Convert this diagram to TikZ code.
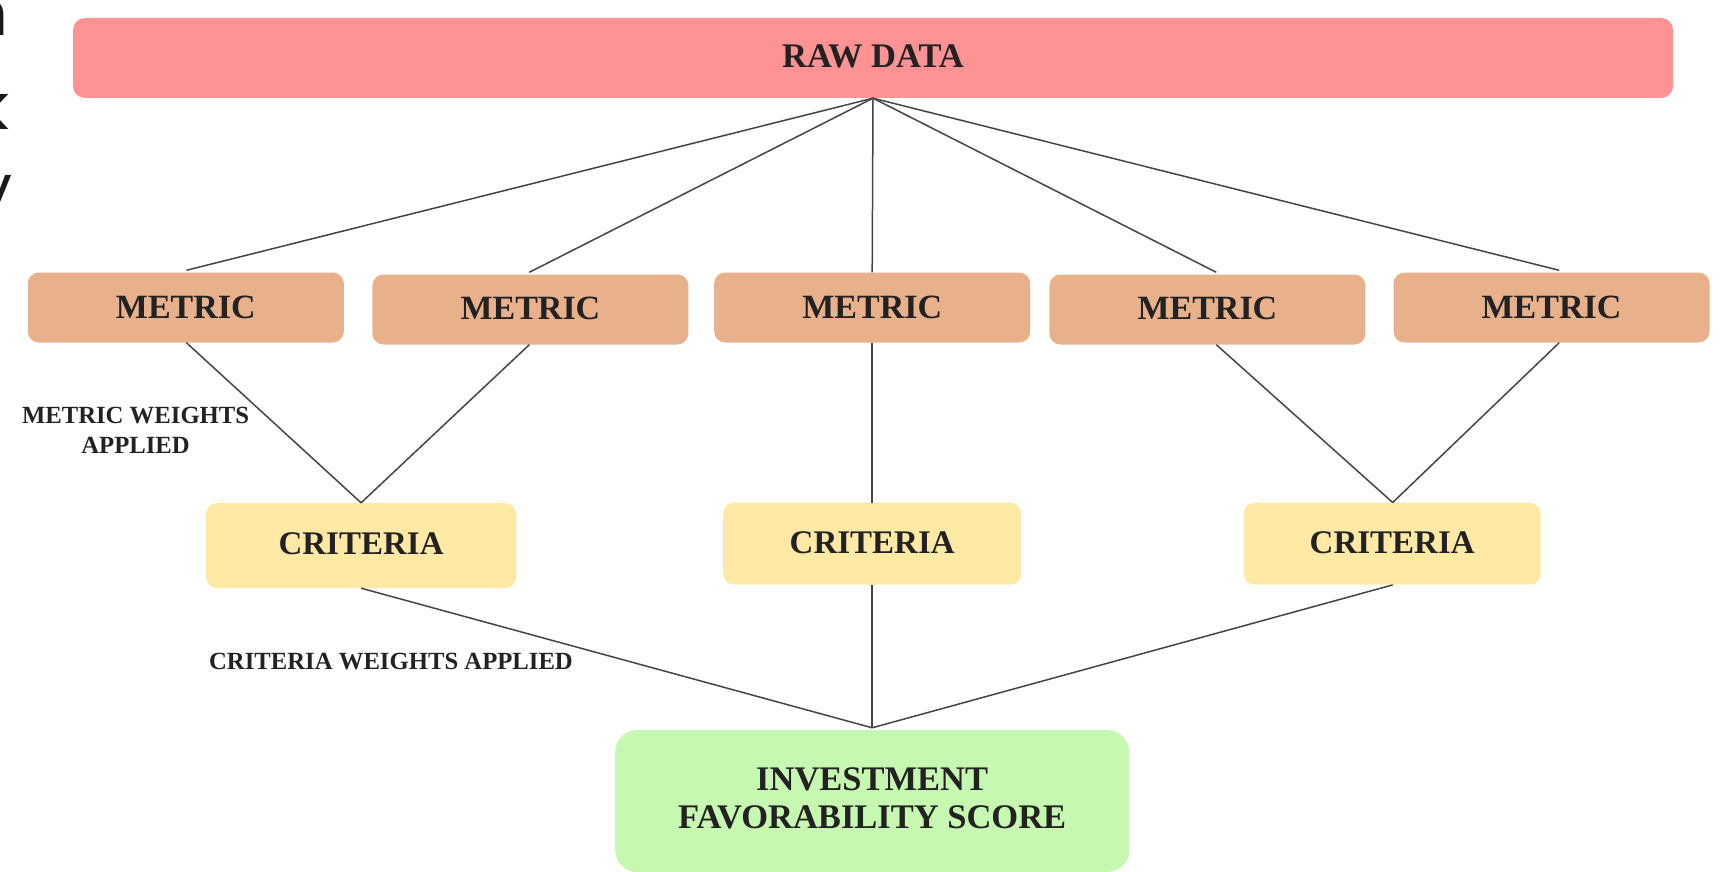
\documentclass[tikz,border=0pt]{standalone}
\usepackage{fontspec}
\setmainfont{Liberation Serif}
\newfontfamily\edgefont{Poppins}
\usetikzlibrary{calc}
\definecolor{rawfill}{HTML}{FF9292}
\definecolor{metfill}{HTML}{E8B18B}
\definecolor{crifill}{HTML}{FFE9A5}
\definecolor{invfill}{HTML}{C6F8B1}
\definecolor{txt}{HTML}{222222}
\definecolor{wire}{HTML}{444444}
\tikzset{
  box/.style={rectangle, rounded corners=11pt, draw=none, inner sep=0pt, text=txt,
    font=\fontsize{33}{40}\selectfont\bfseries, align=center},
  metricbox/.style={box, fill=metfill, minimum width=316pt, minimum height=70pt,
    font=\fontsize{34}{40}\selectfont\bfseries},
  critbox/.style={box, fill=crifill, minimum width=300pt},
  lab/.style={inner sep=0pt, text=txt, font=\fontsize{24.7}{30}\selectfont\bfseries, align=center},
  link/.style={draw=wire, line width=1.5pt},
  edgeglyph/.style={inner sep=0pt, anchor=base east, text=black!90, font=\fontsize{64}{64}\edgefont}
}
\begin{document}
\begin{tikzpicture}[x=1pt,y=-1pt]
\useasboundingbox (0,0) rectangle (1729,872);
% cropped letters at the left edge
\node[edgeglyph] (g1) at (9,36) {n};
\node[edgeglyph] (g2) at (10,130) {k};
\node[edgeglyph] (g3) at (13,210) {y};
% raw data
\node[box, fill=rawfill, minimum width=1600pt, minimum height=80pt, rounded corners=12pt,
  font=\fontsize{34.5}{40}\selectfont\bfseries] (raw) at (873,58) {\raisebox{3pt}{RAW DATA}};
% metrics
\node[metricbox] (m1) at (185.8,307.5) {\raisebox{1pt}{METRIC}};
\node[metricbox] (m2) at (530.4,309.5) {\raisebox{3pt}{METRIC}};
\node[metricbox] (m3) at (872.2,307.5) {\raisebox{1pt}{METRIC}};
\node[metricbox] (m4) at (1207.4,309.5) {\raisebox{3pt}{METRIC}};
\node[metricbox] (m5) at (1551.5,307.5) {\raisebox{1pt}{METRIC}};
% criteria
\node[critbox, minimum width=310pt, minimum height=85pt] (c1) at (361.1,545.5) {\raisebox{3pt}{CRITERIA}};
\node[critbox, minimum width=298pt, minimum height=82pt] (c2) at (872.2,543.7) {\raisebox{3pt}{CRITERIA}};
\node[critbox, minimum width=297pt, minimum height=82pt] (c3) at (1392.2,543.7) {\raisebox{3pt}{CRITERIA}};
% result
\node[box, fill=invfill, minimum width=514pt, minimum height=142pt, rounded corners=22pt,
  font=\fontsize{34.5}{40}\selectfont\bfseries] (inv) at (872.2,801)
  {\raisebox{12pt}{\begin{tabular}{c}INVESTMENT\\[-2pt]FAVORABILITY SCORE\end{tabular}}};
% labels
\node[lab] (lw) at (135.6,430.6) {METRIC WEIGHTS\\APPLIED};
\node[lab] (lc) at (391,661.6) {CRITERIA WEIGHTS APPLIED};
% join points
\coordinate (apex) at (raw.south);
\coordinate (join) at ($(inv.north)+(0,-2)$);
% connectors raw -> metrics
\draw[link] (apex) -- ($(m1.north)+(0.6,-2)$);
\draw[link] (apex) -- ($(m2.north)+(-1.1,-2)$);
\draw[link] (apex) -- (m3.north);
\draw[link] (apex) -- ($(m4.north)+(8.9,-2)$);
\draw[link] (apex) -- ($(m5.north)+(7.7,-2)$);
% metrics -> criteria
\draw[link] ($(m1.south)+(0.6,0)$) -- (c1.north);
\draw[link] ($(m2.south)+(-1.1,0)$) -- (c1.north);
\draw[link] (m3.south) -- (c2.north);
\draw[link] ($(m4.south)+(8.9,0)$) -- ($(c3.north)+(0.5,0)$);
\draw[link] ($(m5.south)+(7.7,0)$) -- ($(c3.north)+(0.5,0)$);
% criteria -> score
\draw[link] (c1.south) -- (join);
\draw[link] (c2.south) -- (join);
\draw[link] ($(c3.south)+(0.5,0)$) -- (join);
\end{tikzpicture}
\end{document}
